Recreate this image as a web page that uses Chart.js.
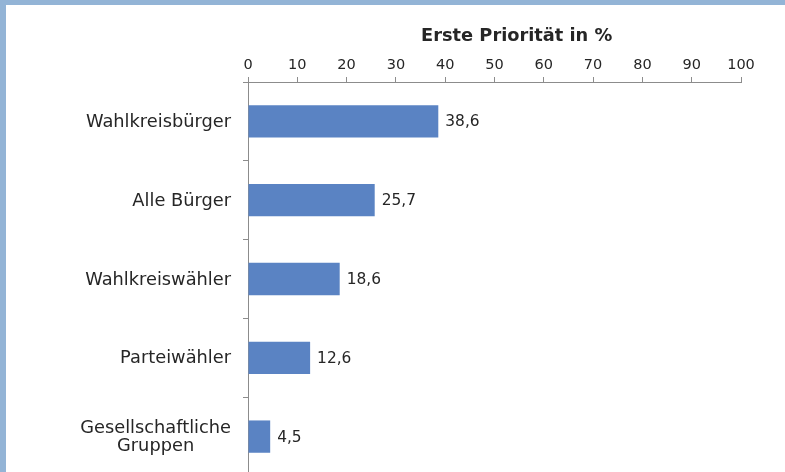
<!DOCTYPE html>
<html>
<head>
<meta charset="utf-8">
<script src="https://cdn.jsdelivr.net/npm/chart.js@4/dist/chart.umd.min.js"></script>
<style>
  html, body { margin: 0; padding: 0; overflow: hidden; background: #ffffff; }
  #frame { width: 779px; height: 475px; border-top: 5px solid #93b4d6; border-left: 6px solid #93b4d6; background: #ffffff; }
  canvas { display: block; }
</style>
</head>
<body>
<div id="frame"><canvas id="c" width="779" height="475"></canvas></div>
<script>
const categories = ["Wahlkreisbürger", "Alle Bürger", "Wahlkreiswähler", "Parteiwähler", ["Gesellschaftliche", "Gruppen"]];
const values = [38.6, 25.7, 18.6, 12.6, 4.5];
const axisTitle = "Erste Priorität in %";
const xMin = 0, xMax = 100, xStep = 10;

const FONT = "'DejaVu Sans', Verdana, sans-serif";
const TEXT = "#262626";
const AXIS = "#8c8c8c";

const fmt = v => v.toFixed(1).replace('.', ',');

const labelPlugin = {
  id: 'labels',
  afterDraw(chart) {
    const ctx = chart.ctx;
    const area = chart.chartArea;
    const ys = chart.scales.y;
    ctx.save();
    // axis title
    ctx.font = "bold 17.8px " + FONT;
    ctx.fillStyle = TEXT;
    ctx.textAlign = 'center';
    ctx.textBaseline = 'middle';
    ctx.fillText(axisTitle, area.left + (area.right - area.left) * 0.545, 31);
    // category labels (lines centered against each other)
    ctx.font = "17.8px " + FONT;
    const right = area.left - 17;
    categories.forEach((c, i) => {
      const lines = Array.isArray(c) ? c : [c];
      const w = Math.max(...lines.map(l => ctx.measureText(l).width));
      const cx = right - w / 2;
      const y0 = ys.getPixelForValue(i);
      const lh = 18;
      lines.forEach((l, j) => {
        ctx.textAlign = 'center';
        ctx.fillText(l, cx, y0 + (j - (lines.length - 1) / 2) * lh + 1);
      });
    });
    // value labels
    ctx.font = "15.4px " + FONT;
    ctx.textAlign = 'left';
    const meta = chart.getDatasetMeta(0);
    meta.data.forEach((bar, i) => {
      ctx.fillText(fmt(values[i]), bar.x + 7, bar.y + 1);
    });
    ctx.restore();
  }
};

new Chart(document.getElementById('c'), {
  type: 'bar',
  data: {
    labels: categories,
    datasets: [{
      data: values,
      backgroundColor: '#5a83c3',
      borderWidth: 0,
      barPercentage: 0.41,
      categoryPercentage: 1.0
    }]
  },
  plugins: [labelPlugin],
  options: {
    indexAxis: 'y',
    responsive: false,
    animation: false,
    layout: { padding: { top: 0, right: 44, bottom: 4, left: 0 } },
    plugins: { legend: { display: false }, tooltip: { enabled: false }, title: { display: false } },
    scales: {
      x: {
        position: 'top',
        min: xMin, max: xMax,
        ticks: { stepSize: xStep, font: { family: FONT, size: 14.5 }, color: TEXT, padding: 3, maxRotation: 0 },
        grid: { drawOnChartArea: false, tickLength: 5, color: AXIS },
        border: { color: AXIS },
        afterFit(scale) { scale.height = 77; }
      },
      y: {
        ticks: { display: false },
        grid: { drawOnChartArea: false, tickLength: 5, color: AXIS, offset: true },
        border: { color: AXIS },
        afterFit(scale) { scale.width = 242; }
      }
    }
  }
});
</script>
</body>
</html>
